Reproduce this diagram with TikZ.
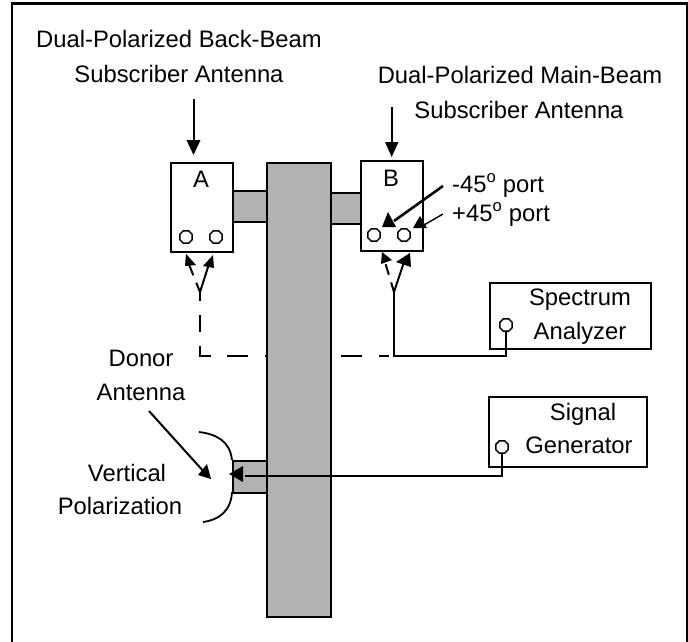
\documentclass[tikz,border=0pt]{standalone}
\usepackage{fontspec}
\usetikzlibrary{shapes.geometric}
\setmainfont{Liberation Sans}
\definecolor{polegray}{gray}{0.7}
\tikzset{
  x=1pt,y=-1pt,
  line join=miter,
  txt/.style={inner sep=0pt,anchor=base,font=\fontsize{23.8}{26}\selectfont},
  ltxt/.style={txt,anchor=base west},
  gray part/.style={draw=black,fill=polegray,line width=2.4pt},
  boxnode/.style={draw=black,line width=2.2pt,fill=white,inner sep=0pt,anchor=north west},
  port/.style={draw=black,line width=1.5pt,regular polygon,regular polygon sides=8,inner sep=0pt,minimum size=13.5pt,fill=white},
  wire/.style={draw=black,line width=2pt},
  thin wire/.style={draw=black,line width=1.4pt},
  heavy wire/.style={draw=black,line width=2.6pt},
  branch dash/.style={wire,dash pattern=on 10pt off 8pt on 11pt off 30pt},
  long dash/.style={wire,dash pattern=on 9pt off 14pt on 17pt off 14pt on 21pt off 16pt on 21pt off 17pt on 21pt off 17pt on 21pt off 17pt on 21pt off 17pt on 10pt off 30pt},
}
\begin{document}
\begin{tikzpicture}
\useasboundingbox (0,0) rectangle (688,642);
% frame
\draw[line width=2.2pt] (12,642) -- (12,3.5) -- (686.8,3.5) -- (686.8,642);
% named free ends
\coordinate (jA) at (200,292);
\coordinate (jB) at (394,292);
\coordinate (cA) at (200,356);
\coordinate (cB) at (394,356);
\coordinate (dEnd) at (389,356);
% dashed run, passes behind the pole
\draw[long dash] (jA) -- (cA) -- (dEnd);
% pole and arms
\node[gray part,inner sep=0pt,minimum width=34pt,minimum height=31pt,anchor=north west] (armA) at (232,190) {};
\node[gray part,inner sep=0pt,minimum width=30pt,minimum height=31pt,anchor=north west] (armB) at (330,192) {};
\node[gray part,inner sep=0pt,minimum width=34pt,minimum height=32pt,anchor=north west] (armD) at (232,460) {};
\node[gray part,inner sep=0pt,minimum width=64pt,minimum height=454pt,anchor=north west] (pole) at (266,162) {};
% antenna boxes
\node[boxnode,minimum width=62pt,minimum height=89pt] (boxA) at (170,162) {};
\node[boxnode,minimum width=62pt,minimum height=90pt] (boxB) at (360,160) {};
\node[txt] (lA) at (201,187) {A};
\node[txt] (lB) at (391,186) {B};
\node[port] (a1) at (186,237) {};
\node[port] (a2) at (216,237) {};
\node[port] (b1) at (374,235) {};
\node[port] (b2) at (404,235) {};
% instruments
\node[boxnode,minimum width=161pt,minimum height=66pt] (sa) at (489,282) {};
\node[boxnode,minimum width=158pt,minimum height=70pt] (sg) at (488,396) {};
\node[port] (saP) at (506,325) {};
\node[port] (sgP) at (502,447) {};
% dish
\draw[line width=1.8pt] (199,432) .. controls (216,434) and (230,441) .. (232,460);
\draw[line width=1.8pt] (232,492) .. controls (231,511) and (219,520) .. (203,522);
% subscriber pointers
\coordinate (tA) at (193.5,99);
\coordinate (hA) at (193.5,155);
\coordinate (tB) at (391.7,107);
\coordinate (hB) at (391.7,157);
\draw[wire] (tA) -- (193.5,145);
\fill[black] (hA) -- (186.5,140) -- (200.5,140) -- cycle;
\draw[wire] (tB) -- (391.7,147);
\fill[black] (hB) -- (385,142) -- (398.5,142) -- cycle;
% port pointers
\draw[heavy wire] (443,186) -- (394,221);
\fill[black] (388,212) -- (382,227) -- (396,227) -- cycle;
\draw[thin wire] (443,214) -- (424,225);
\fill[black] (420,216) -- (413,228) -- (427,228) -- cycle;
% branches at A
\draw[branch dash] (jA) -- (188,262);
\fill[black] (186,254) -- (185,266) -- (196,265) -- cycle;
\draw[wire] (jA) -- (209,264);
\fill[black] (213,255) -- (203,266) -- (214,268) -- cycle;
% branches at B
\draw[branch dash] (jB) -- (385,262);
\fill[black] (382,252) -- (381,264) -- (392,260) -- cycle;
\draw[wire] (jB) -- (404,262);
\fill[black] (410,253) -- (396,262) -- (411,267) -- cycle;
% solid feed to spectrum analyzer
\draw[wire] (jB) -- (cB) -| (saP.south);
% signal generator feed
\coordinate (feedEnd) at (245,476);
\draw[wire] (sgP.south) -- (502,476) -- (feedEnd);
\fill[black] (229,474) -- (243,466) -- (243,482) -- cycle;
% donor pointer
\coordinate (dS) at (149,411);
\draw[line width=2pt] (dS) -- (205,473);
\fill[black] (211,479) -- (207,464) -- (198,475) -- cycle;
% labels
\node[txt] (t1) at (179,48) {Dual-Polarized Back-Beam};
\node[txt] (t2) at (179,82) {Subscriber Antenna};
\node[txt] (t3) at (520,83) {Dual-Polarized Main-Beam};
\node[txt] (t4) at (519,118) {Subscriber Antenna};
\node[ltxt] (t5) at (452,192) {-45\textsuperscript{o} port};
\node[ltxt] (t6) at (452,221) {+45\textsuperscript{o} port};
\node[txt] (t7) at (580,305) {Spectrum};
\node[txt] (t8) at (580,339) {Analyzer};
\node[txt] (t9) at (583,420) {Signal};
\node[txt] (t10) at (579,453) {Generator};
\node[txt] (t11) at (141,366) {Donor};
\node[txt] (t12) at (141,400) {Antenna};
\node[txt] (t13) at (127,481) {Vertical};
\node[txt] (t14) at (120,514) {Polarization};
\end{tikzpicture}
\end{document}
